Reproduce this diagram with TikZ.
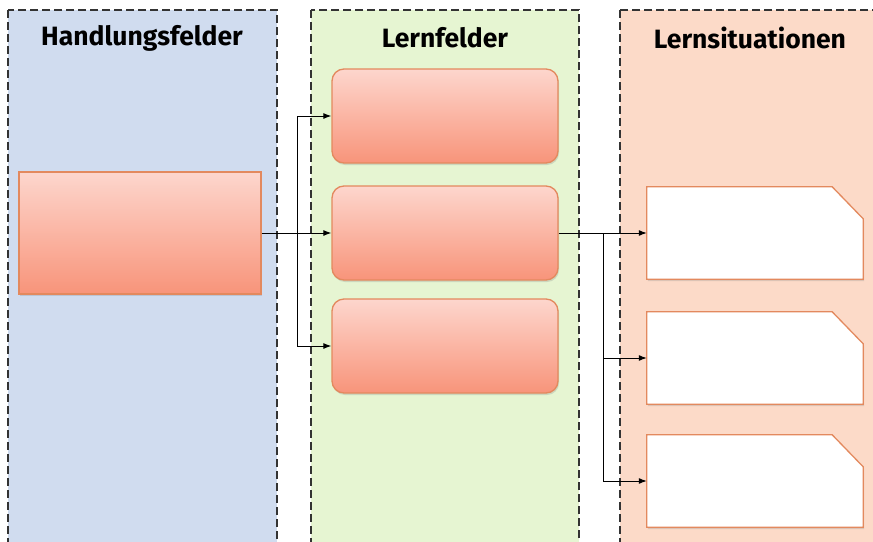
\documentclass[tikz,border=0pt]{standalone}
\usepackage{fontspec}
\setmainfont{Fira Sans}
\usetikzlibrary{positioning,shadows,arrows.meta}

\definecolor{hfblue}{HTML}{D0DCEF}
\definecolor{lfgreen}{HTML}{E6F5D2}
\definecolor{lspeach}{HTML}{FCDAC8}
\definecolor{boxtop}{HTML}{FDD6CD}
\definecolor{boxbot}{HTML}{F8947A}
\definecolor{boxline}{HTML}{E3895E}

\tikzset{
    panel/.style={draw=black!80, line width=1.4pt, dash pattern=on 8pt off 4pt},
    title/.style={font=\fontsize{26.5}{30}\selectfont\bfseries},
    redbox/.style={draw=boxline, line width=1.3pt, top color=boxtop, bottom color=boxbot,
        drop shadow={shadow xshift=1pt, shadow yshift=-2pt, opacity=0.25}},
    sitbox/.style={rectangle, inner sep=0pt, minimum width=216pt, minimum height=92pt},
    sitline/.style={draw=boxline, line width=1.3pt, fill=white,
        drop shadow={shadow xshift=1pt, shadow yshift=-2pt, opacity=0.25}},
    conn/.style={-{Latex[length=8pt,width=6pt]}, line width=1pt}
}

\begin{document}
\begin{tikzpicture}[x=1pt,y=-1pt]
    \useasboundingbox (0,0) rectangle (873,541);
    % columns
    \draw[panel, fill=hfblue] (8,10) rectangle (277,560);
    \draw[panel, fill=lfgreen] (311,10) rectangle (579,560);
    \draw[panel, fill=lspeach] (620,10) rectangle (890,560);
    \node[title] (thf) at (142,38) {Handlungsfelder};
    \node[title] (tlf) at (445,38) {Lernfelder};
    \node[title] (tls) at (750,38) {Lernsituationen};
    % Handlungsfeld
    \node[redbox, minimum width=242pt, minimum height=122pt] (hf1) at (140,233) {};
    % Lernfelder
    \node[redbox, rounded corners=12pt, minimum width=226pt, minimum height=94pt] (lf1) at (445,116) {};
    \node[redbox, rounded corners=12pt, minimum width=226pt, minimum height=94pt] (lf2) at (445,233) {};
    \node[redbox, rounded corners=12pt, minimum width=226pt, minimum height=94pt] (lf3) at (445,346) {};
    % Lernsituationen (cut corner top right)
    \node[sitbox] (ls1) at (755,233) {};
    \node[sitbox] (ls2) at (755,358) {};
    \node[sitbox] (ls3) at (755,481) {};
    \foreach \s in {ls1,ls2,ls3}
        \path[sitline] (\s.south west) -- (\s.north west) -- ([xshift=-31pt]\s.north east)
            -- ([yshift=-32pt]\s.north east) -- (\s.south east) -- cycle;
    % connections
    \coordinate (b1) at (297,233);
    \coordinate (b2) at (603,233);
    \draw[conn] (hf1.east) -- (lf2.west);
    \draw[conn] (b1) |- (lf1.west);
    \draw[conn] (b1) |- (lf3.west);
    \draw[conn] (lf2.east) -- (ls1.west);
    \draw[conn] (b2) |- (ls2.west);
    \draw[conn] (b2) |- (ls3.west);
\end{tikzpicture}
\end{document}
